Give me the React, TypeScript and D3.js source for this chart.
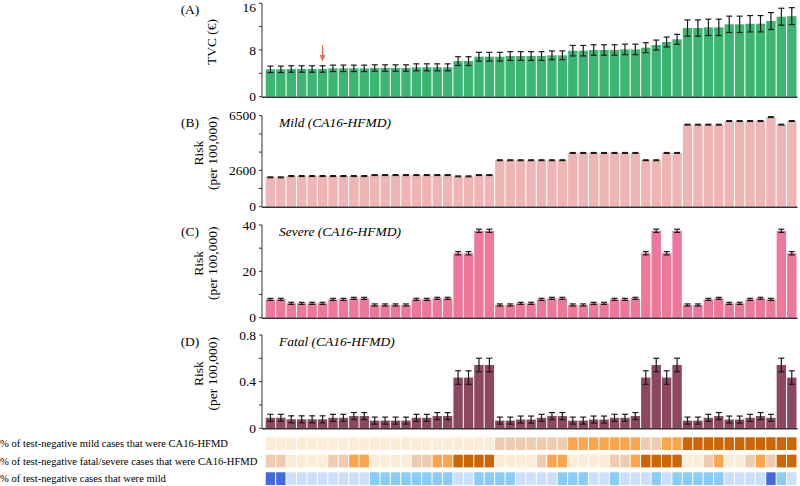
import React from 'react';
import * as d3 from 'd3';

// 51 scenarios
const tvc = [4.69, 4.69, 4.75, 4.75, 4.75, 4.75, 4.86, 4.86, 4.86, 4.86, 4.91, 4.91, 4.91, 4.91, 5.03, 5.03, 5.03, 5.03, 6.1, 6.1, 6.85, 6.85,
  6.85, 6.97, 6.97, 6.97, 6.97, 7.09, 7.09, 7.88, 7.88, 8.0, 8.0, 8.0, 8.1, 8.1, 8.4, 8.85, 9.37, 9.83, 11.76, 11.76, 11.88, 11.88, 12.4, 12.4, 12.5, 12.5, 12.96, 13.7, 13.8];
const tvcErr = [0.55, 0.55, 0.55, 0.55, 0.55, 0.55, 0.55, 0.55, 0.55, 0.55, 0.55, 0.55, 0.55, 0.55, 0.6, 0.6, 0.6, 0.6, 0.75, 0.75, 0.75, 0.75,
  0.75, 0.75, 0.75, 0.75, 0.75, 0.75, 0.75, 0.9, 0.9, 0.9, 0.9, 0.9, 0.9, 0.9, 0.85, 0.85, 0.85, 0.85, 1.4, 1.4, 1.4, 1.4, 1.4, 1.4, 1.4, 1.4, 1.45, 1.45, 1.45];

const mild = [2100, 2100, 2190, 2190, 2190, 2190, 2190, 2190, 2190, 2190, 2260, 2260, 2260, 2260, 2260, 2260, 2260, 2260, 2170, 2170, 2260, 2260,
  3320, 3320, 3320, 3320, 3320, 3320, 3320, 3840, 3840, 3840, 3840, 3840, 3840, 3840, 3320, 3320, 3840, 3840, 5860, 5860, 5860, 5860, 6120, 6120, 6120, 6120, 6400, 5860, 6120];
const mildErr = mild.map(() => 30);

const severe = [7.9, 7.9, 6.2, 6.2, 6.2, 6.2, 7.9, 7.9, 8.35, 8.35, 5.5, 5.5, 5.5, 5.5, 7.9, 7.9, 8.35, 8.35, 27.8, 27.8, 37.5, 37.5,
  5.5, 5.5, 6.2, 6.2, 7.9, 8.35, 8.35, 5.5, 5.5, 6.2, 6.2, 7.9, 7.9, 8.35, 27.8, 37.5, 27.8, 37.5, 5.5, 5.5, 7.9, 8.35, 6.2, 6.2, 7.9, 8.35, 7.9, 37.5, 27.8];
const severeErr = severe.map((v) => (v > 20 ? 0.7 : 0.45));

const fatal = [0.09, 0.09, 0.077, 0.077, 0.077, 0.077, 0.09, 0.09, 0.105, 0.105, 0.066, 0.066, 0.066, 0.066, 0.09, 0.09, 0.105, 0.105, 0.435, 0.435, 0.543, 0.543,
  0.066, 0.066, 0.075, 0.075, 0.09, 0.105, 0.105, 0.066, 0.066, 0.075, 0.075, 0.09, 0.09, 0.105, 0.435, 0.543, 0.435, 0.543, 0.066, 0.066, 0.09, 0.105, 0.075, 0.075, 0.09, 0.105, 0.09, 0.543, 0.435];
const fatalErr = fatal.map((v) => (v > 0.3 ? 0.058 : 0.03));

// heat map rows (levels)
const mildCA16 = [0, 0, 0, 0, 0, 0, 0, 0, 0, 0, 0, 0, 0, 0, 0, 0, 0, 0, 0, 0, 0, 0,
  1, 1, 1, 1, 1, 1, 1, 2, 2, 2, 2, 2, 2, 2, 1, 1, 2, 2, 3, 3, 3, 3, 3, 3, 3, 3, 3, 3, 3];
const severeCA16 = [1, 1, 0, 0, 0, 0, 1, 1, 2, 2, 0, 0, 0, 0, 1, 1, 2, 2, 3, 3, 3, 3,
  0, 0, 0, 0, 1, 2, 2, 0, 0, 0, 0, 1, 1, 2, 3, 3, 3, 3, 0, 0, 1, 2, 0, 0, 1, 2, 1, 3, 3];
const mildShare = [2, 2, 0, 0, 0, 0, 0, 0, 0, 0, 1, 1, 1, 1, 1, 1, 1, 1, 0, 0, 1, 1,
  1, 1, 0, 0, 0, 0, 1, 1, 1, 0, 0, 1, 0, 0, 0, 1, 0, 1, 1, 1, 1, 1, 0, 0, 0, 0, 2, 1, 0];

const rowLabels = [
  '% of test-negative mild cases that were CA16-HFMD',
  '% of test-negative fatal/severe cases that were CA16-HFMD',
  '% of test-negative cases that were mild',
];

const orangeScale = d3.scaleOrdinal<number, string>().domain([0, 1, 2, 3]).range(['#feedd6', '#efcbaf', '#fca54d', '#cc6502']);
const blueScale = d3.scaleOrdinal<number, string>().domain([0, 1, 2]).range(['#cce0fd', '#88cdf8', '#4169e2']);

const FONT = '"Liberation Serif", "Times New Roman", serif';
const AXIS_X = 262;

const x = d3.scaleBand<number>().domain(d3.range(tvc.length)).range([265.2, 797]).paddingInner(0.1).paddingOuter(0.05);

const panels = [
  { tag: '(A)', values: tvc, err: tvcErr, max: 16, ticks: [0, 4, 8, 12, 16], labels: [0, 8, 16], top: 3.3, bottom: 96.7, color: '#3db572', title: ['TVC (€)'], note: '' },
  { tag: '(B)', values: mild, err: mildErr, max: 6500, ticks: [0, 1300, 2600, 3900, 5200, 6500], labels: [0, 2600, 6500], top: 115.7, bottom: 206.7, color: '#efb4b4', title: ['Risk', '(per 100,000)'], note: 'Mild (CA16-HFMD)' },
  { tag: '(C)', values: severe, err: severeErr, max: 40, ticks: [0, 10, 20, 30, 40], labels: [0, 20, 40], top: 225, bottom: 317.7, color: '#ee789c', title: ['Risk', '(per 100,000)'], note: 'Severe (CA16-HFMD)' },
  { tag: '(D)', values: fatal, err: fatalErr, max: 0.8, ticks: [0, 0.2, 0.4, 0.6, 0.8], labels: [0, 0.4, 0.8], top: 335, bottom: 428.3, color: '#8c4761', title: ['Risk', '(per 100,000)'], note: 'Fatal (CA16-HFMD)' },
];

function Panel({ p }: { p: typeof panels[number] }) {
  const y = d3.scaleLinear().domain([0, p.max]).range([p.bottom, p.top]);
  const bw = x.bandwidth();
  const mid = (p.top + p.bottom) / 2 - 8;
  return (
    <g>
      <text x={190} y={p.top + 11} textAnchor="middle" fontSize={13.5}>{p.tag}</text>
      {p.title.length === 1 ? (
        <text transform={`translate(211,${mid}) rotate(-90)`} textAnchor="middle" dominantBaseline="central" fontSize={13.5}>{p.title[0]}</text>
      ) : (
        <g>
          <text transform={`translate(198,${mid}) rotate(-90)`} textAnchor="middle" dominantBaseline="central" fontSize={13.5}>{p.title[0]}</text>
          <text transform={`translate(212,${mid}) rotate(-90)`} textAnchor="middle" dominantBaseline="central" fontSize={13.5}>{p.title[1]}</text>
        </g>
      )}
      {p.note && (
        <text x={279} y={p.top + 11} fontSize={13.5} fontStyle="italic">{p.note}</text>
      )}
      {p.values.map((v, i) => (
        <rect key={i} x={x(i)} y={y(v)} width={bw} height={y(0) - y(v)} fill={p.color} />
      ))}
      {p.values.map((v, i) => {
        const cx = (x(i) as number) + bw / 2;
        const e = p.err[i];
        return (
          <g key={'e' + i} stroke="#1a1a1a" strokeWidth={1.2}>
            <line x1={cx} x2={cx} y1={y(v - e)} y2={y(v + e)} />
            <line x1={cx - 3} x2={cx + 3} y1={y(v - e)} y2={y(v - e)} />
            <line x1={cx - 3} x2={cx + 3} y1={y(v + e)} y2={y(v + e)} />
          </g>
        );
      })}
      <line x1={AXIS_X} x2={AXIS_X} y1={p.top} y2={p.bottom} stroke="#333" strokeWidth={1} />
      <line x1={AXIS_X} x2={797.5} y1={p.bottom + 0.5} y2={p.bottom + 0.5} stroke="#333" strokeWidth={1.4} />
      {p.ticks.map((t) => (
        <line key={'t' + t} x1={AXIS_X - 3} x2={AXIS_X} y1={y(t)} y2={y(t)} stroke="#333" strokeWidth={1} />
      ))}
      {p.labels.map((t) => (
        <text key={'l' + t} x={256} y={Math.max(y(t), 7)} textAnchor="end" dominantBaseline="central" fontSize={13.5}>{String(t)}</text>
      ))}
    </g>
  );
}

export default function App() {
  const rows = [
    { levels: mildCA16, scale: orangeScale, top: 437.3 },
    { levels: severeCA16, scale: orangeScale, top: 454.7 },
    { levels: mildShare, scale: blueScale, top: 472.3 },
  ];
  const arrowX = (x(5) as number) + x.bandwidth() / 2;
  return (
    <svg width={800} height={486} style={{ position: 'absolute', left: 0, top: 0, fontFamily: FONT }}>
      <rect width={800} height={486} fill="#fff" />
      {panels.map((p) => <Panel key={p.tag} p={p} />)}
      <g stroke="#f26b4f" fill="#f26b4f">
        <line x1={arrowX} x2={arrowX} y1={45} y2={56} strokeWidth={1.3} />
        <path d={`M${arrowX - 3},55 L${arrowX + 3},55 L${arrowX},61.5 Z`} stroke="none" />
      </g>
      {rows.map((r, ri) => (
        <g key={ri}>
          <text x={0} y={r.top + 6.5} dominantBaseline="central" fontSize={10.6}>{rowLabels[ri]}</text>
          {r.levels.map((l, i) => (
            <rect key={i} x={x(i)} y={r.top} width={x.bandwidth()} height={12.7} fill={r.scale(l)} />
          ))}
        </g>
      ))}
    </svg>
  );
}
